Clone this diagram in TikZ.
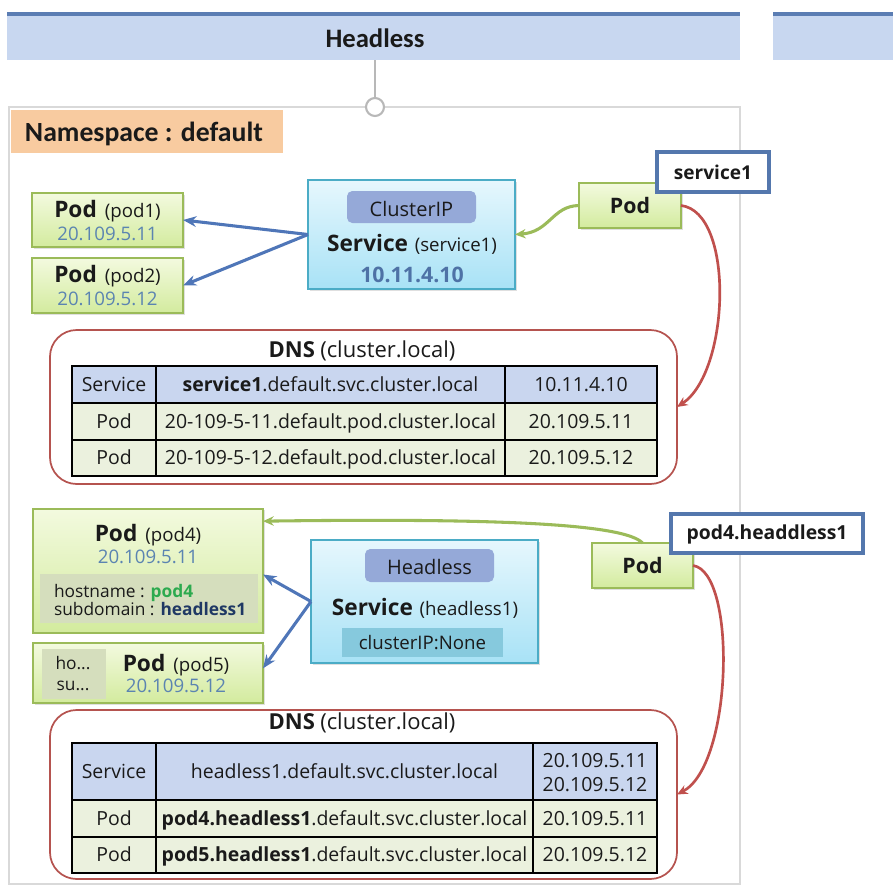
\documentclass[tikz,border=0pt]{standalone}
\usepackage{fontspec}
\setmainfont{Open Sans}
\newfontfamily\hdfont{Carlito}
\usetikzlibrary{arrows.meta,shadows}
\definecolor{hdrfill}{HTML}{C8D7F0}
\definecolor{hdrline}{HTML}{5B7DB3}
\definecolor{nsfill}{HTML}{F8CBA0}
\definecolor{nsframe}{HTML}{D9D9D9}
\definecolor{podtop}{HTML}{F3FADF}
\definecolor{podbot}{HTML}{D3EB9E}
\definecolor{podline}{HTML}{9BBB59}
\definecolor{svctop}{HTML}{E6F7FD}
\definecolor{svcbot}{HTML}{A8E2F6}
\definecolor{svcline}{HTML}{4BACC6}
\definecolor{tagfill}{HTML}{95A9D8}
\definecolor{cipfill}{HTML}{86C9DD}
\definecolor{ipcol}{HTML}{5B84B1}
\definecolor{svcip}{HTML}{4E72A6}
\definecolor{arrblue}{HTML}{4F76B8}
\definecolor{arrgreen}{HTML}{9BBB59}
\definecolor{arrred}{HTML}{C0504D}
\definecolor{dnsline}{HTML}{B5534F}
\definecolor{rowblue}{HTML}{C9D6EF}
\definecolor{rowgreen}{HTML}{EBF1DE}
\definecolor{hostfill}{HTML}{D5DEBD}
\definecolor{hostgreen}{HTML}{2DAA4F}
\definecolor{hostblue}{HTML}{1F3864}
\definecolor{lblline}{HTML}{5477AD}
\definecolor{txtcol}{HTML}{1A1A1A}
\newcommand\fsz[2]{\fontsize{#1}{#2}\selectfont}
\begin{document}
\begin{tikzpicture}[x=0.75pt,y=-0.75pt,
  every node/.style={inner sep=0pt,outer sep=0pt,text=txtcol},
  sz/.style 2 args={minimum width=#1*0.75pt,minimum height=#2*0.75pt},
  hdr/.style={fill=hdrfill},
  podbox/.style={draw=podline,line width=1.5pt,top color=podtop,bottom color=podbot,
     drop shadow={opacity=0.25,shadow xshift=1.2pt,shadow yshift=-1.2pt}},
  svcbox/.style={draw=svcline,line width=1.3pt,top color=svctop,bottom color=svcbot,
     drop shadow={opacity=0.25,shadow xshift=1.2pt,shadow yshift=-1.2pt}},
  tagbox/.style={fill=tagfill,rounded corners=4pt},
  lblbox/.style={draw=lblline,line width=2.4pt,fill=white},
  dnsbox/.style={draw=dnsline,line width=1.3pt,rounded corners=20pt,fill=white},
  cell/.style={draw=black,line width=1.4pt,font=\fsz{14.6}{18},text height=10.4pt,text depth=0pt},
  srow/.style={cell,fill=rowblue},
  prow/.style={cell,fill=rowgreen},
  barrow/.style={draw=arrblue,line width=2.3pt,-{Stealth[length=10pt,width=8pt]}},
  garrow/.style={draw=arrgreen,line width=2.3pt,-{Stealth[length=8pt,width=7pt]}},
  rarrow/.style={draw=arrred,line width=2pt,-{Stealth[length=8pt,width=7pt]}},
]
\useasboundingbox (0,0) rectangle (893,889);

% headers
\node[hdr,sz={733}{46}] (hdr) at (373.5,37) {};
\draw[hdrline,line width=2.4pt] (hdr.north west) -- (hdr.north east);
\node[anchor=base] (hdrtxt) at (375,47.5) {\hdfont\bfseries\fsz{20}{24}Headless};
\node[hdr,sz={120}{46}] (hdrb) at (833,37) {};
\draw[hdrline,line width=2.4pt] (hdrb.north west) -- (hdrb.north east);

% namespace
\node[draw=nsframe,line width=2.2pt,sz={731}{777}] (ns) at (374.5,495.5) {};
\node[fill=nsfill,sz={272}{43}] (nslbl) at (147,131) {};
\node[anchor=base west] (nstxt) at (25,141.5) {\hdfont\bfseries\fsz{20.8}{24}Namespace : default};
\node[circle,draw=black!28,fill=white,line width=1.6pt,minimum size=18*0.75pt] (ring) at (375,107) {};
\draw[black!28,line width=0.8pt] (ring.north) -- (ring.north |- hdr.south);

% ===== ClusterIP part =====
\node[podbox,sz={151}{54}] (pod1) at (107.5,220) {};
\node[anchor=base] (pod1t) at (107.5,217) {\fsz{17}{20}\textbf{Pod}\hspace{6pt}\fsz{14}{17}(pod1)};
\node[anchor=base,text=ipcol,font=\fsz{14}{17}] (pod1ip) at (107.5,240) {20.109.5.11};
\node[podbox,sz={151}{55}] (pod2) at (107.5,285.5) {};
\node[anchor=base] (pod2t) at (107.5,282) {\fsz{17}{20}\textbf{Pod}\hspace{6pt}\fsz{14}{17}(pod2)};
\node[anchor=base,text=ipcol,font=\fsz{14}{17}] (pod2ip) at (107.5,305) {20.109.5.12};

\node[svcbox,sz={207}{109}] (svc1) at (411.5,234.5) {};
\node[tagbox,sz={129}{32}] (tag1) at (411.5,207) {};
\node[anchor=base,font=\fsz{15}{18}] (tag1t) at (411.5,216) {ClusterIP};
\node[anchor=base] (svc1t) at (412,251) {\fsz{17}{20}\textbf{Service}\hspace{5pt}\fsz{14}{17}(service1)};
\node[anchor=base,text=svcip,font=\fsz{16}{19}\bfseries] (svc1ip) at (412,282.5) {10.11.4.10};

\node[podbox,sz={102}{45}] (podA) at (630,205.5) {};
\node[anchor=base,font=\fsz{16}{19}\bfseries] (podAt) at (630,213.5) {Pod};
\node[lblbox,sz={112}{40}] (lbl1) at (713,172) {};
\node[anchor=base,font=\fsz{14.3}{17}\bfseries] (lbl1t) at (713,179.5) {service1};

\node[dnsbox,sz={627}{154}] (dns1) at (363.5,407) {};
\node[anchor=base] (dns1t) at (362,357.5) {\fsz{16.5}{19}\textbf{DNS}\hspace{4pt}(cluster.local)};

\node[srow,sz={84}{37}] (a11) at (114,384.5) {Service};
\node[srow,sz={349}{37}] (a12) at (330.5,384.5) {\textbf{service1}.default.svc.cluster.local};
\node[srow,sz={152}{37}] (a13) at (581,384.5) {10.11.4.10};
\node[prow,sz={84}{37}] (a21) at (114,421.5) {Pod};
\node[prow,sz={349}{37}] (a22) at (330.5,421.5) {20-109-5-11.default.pod.cluster.local};
\node[prow,sz={152}{37}] (a23) at (581,421.5) {20.109.5.11};
\node[prow,sz={84}{36}] (a31) at (114,458) {Pod};
\node[prow,sz={349}{36}] (a32) at (330.5,458) {20-109-5-12.default.pod.cluster.local};
\node[prow,sz={152}{36}] (a33) at (581,458) {20.109.5.12};

\draw[barrow] (svc1.west) -- (pod1.east);
\draw[barrow] (svc1.west) -- (pod2.east);
\draw[garrow] (podA.west) .. controls (552,206) and (550,232) .. (svc1.east);
\draw[rarrow] (podA.east) .. controls (735,212) and (730,372) .. (dns1.east);

% ===== Headless part =====
\node[podbox,sz={230}{124}] (pod4) at (148,570.5) {};
\node[anchor=base] (pod4t) at (148,541) {\fsz{17}{20}\textbf{Pod}\hspace{6pt}\fsz{14}{17}(pod4)};
\node[anchor=base,text=ipcol,font=\fsz{14}{17}] (pod4ip) at (148,563) {20.109.5.11};
\node[fill=hostfill,sz={218}{49}] (host4) at (149,598.5) {};
\node[anchor=base west,font=\fsz{13}{15}] (host4a) at (54,597) {hostname : \textcolor{hostgreen}{\bfseries pod4}};
\node[anchor=base west,font=\fsz{13}{15}] (host4b) at (54,615) {subdomain : \textcolor{hostblue}{\bfseries headless1}};

\node[podbox,sz={230}{60}] (pod5) at (148,673) {};
\node[fill=hostfill,sz={64}{50}] (host5) at (74,673.5) {};
\node[anchor=base,font=\fsz{13}{15}] (host5a) at (73,669) {ho...};
\node[anchor=base,font=\fsz{13}{15}] (host5b) at (73,690) {su...};
\node[anchor=base] (pod5t) at (176,671) {\fsz{17}{20}\textbf{Pod}\hspace{6pt}\fsz{14}{17}(pod5)};
\node[anchor=base,text=ipcol,font=\fsz{14}{17}] (pod5ip) at (176,692) {20.109.5.12};

\node[svcbox,sz={227}{123}] (svc2) at (424.5,601.5) {};
\node[tagbox,sz={129}{33}] (tag2) at (429.5,565.5) {};
\node[anchor=base,font=\fsz{15}{18}] (tag2t) at (429.5,574) {Headless};
\node[anchor=base] (svc2t) at (425,615) {\fsz{17}{20}\textbf{Service}\hspace{5pt}\fsz{14}{17}(headless1)};
\node[fill=cipfill,sz={161}{29}] (cip) at (422.5,642.5) {};
\node[anchor=base,font=\fsz{14}{17}] (cipt) at (422.5,649.5) {clusterIP:None};

\node[podbox,sz={101}{45}] (podB) at (642.5,565.5) {};
\node[anchor=base,font=\fsz{16}{19}\bfseries] (podBt) at (642.5,573.5) {Pod};
\node[lblbox,sz={192}{39}] (lbl2) at (767,533.5) {};
\node[anchor=base,font=\fsz{14.5}{17}\bfseries] (lbl2t) at (767,539.5) {pod4.headdless1};

\node[dnsbox,sz={627}{169}] (dns2) at (363.5,794.5) {};
\node[anchor=base] (dns2t) at (362,729.5) {\fsz{16.5}{19}\textbf{DNS}\hspace{4pt}(cluster.local)};

\node[srow,sz={84}{57}] (b11) at (114,771.5) {Service};
\node[srow,sz={377}{57}] (b12) at (344.5,771.5) {headless1.default.svc.cluster.local};
\node[srow,sz={124}{57}] (b13) at (595,771.5) {};
\node[anchor=base,font=\fsz{14.6}{17}] (b13a) at (595,767.7) {20.109.5.11};
\node[anchor=base,font=\fsz{14.6}{17}] (b13b) at (595,791.7) {20.109.5.12};
\node[prow,sz={84}{37}] (b21) at (114,818.5) {Pod};
\node[prow,sz={377}{37}] (b22) at (344.5,818.5) {\textbf{pod4.headless1}.default.svc.cluster.local};
\node[prow,sz={124}{37}] (b23) at (595,818.5) {20.109.5.11};
\node[prow,sz={84}{36}] (b31) at (114,855) {Pod};
\node[prow,sz={377}{36}] (b32) at (344.5,855) {\textbf{pod5.headless1}.default.svc.cluster.local};
\node[prow,sz={124}{36}] (b33) at (595,855) {20.109.5.12};

\draw[barrow] (svc2.west) -- ([yshift=-3pt]pod4.east);
\draw[barrow] (svc2.west) -- ([yshift=3.5pt]pod5.east);
\draw[garrow] (podB.north) .. controls (625,524) and (500,518) .. ([yshift=-9.5pt]pod4.north east);
\draw[rarrow] (podB.east) .. controls (737,572) and (733,765) .. (dns2.east);
\end{tikzpicture}
\end{document}
